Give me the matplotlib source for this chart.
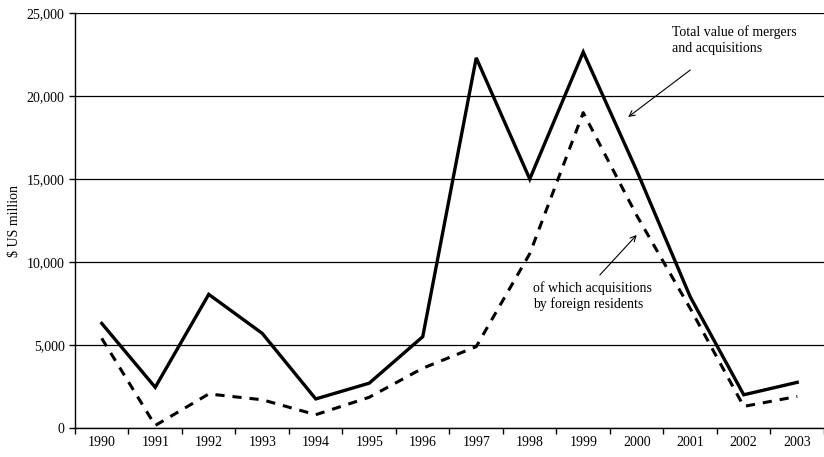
import matplotlib.pyplot as plt
import numpy as np

# Dados ($ US milhões)
anos = ['1990', '1991', '1992', '1993', '1994', '1995', '1996',
        '1997', '1998', '1999', '2000', '2001', '2002', '2003']
total = [6300, 2450, 8050, 5700, 1750, 2700, 5500,
         22300, 15000, 22650, 15500, 7900, 2000, 2750]
estrangeiros = [5400, 150, 2050, 1700, 800, 1850, 3600,
                4900, 10500, 19000, 12800, 7200, 1300, 1900]

plt.rcParams['font.family'] = ['Liberation Serif', 'DejaVu Serif']

fig = plt.figure(figsize=(8.24, 4.57), dpi=100)
ax = fig.add_axes([0.091, 0.0635, 0.909, 0.908])

x = np.arange(len(anos))
ax.plot(x, total, color='black', linewidth=2.4, solid_joinstyle='miter')
ax.plot(x, estrangeiros, color='black', linewidth=2.2, dashes=(3, 2.6))

# Eixos
ax.set_xlim(-0.5, len(anos) - 0.5)
ax.set_ylim(0, 25000)
ax.set_yticks(np.arange(0, 25001, 5000))
ax.set_yticklabels([f'{v:,}' for v in range(0, 25001, 5000)], fontsize=10)
ax.set_xticks(np.arange(len(anos) + 1) - 0.5)
ax.set_xticklabels([])
ax.set_xticks(x, minor=True)
ax.set_xticklabels(anos, minor=True, fontsize=10)
ax.tick_params(axis='x', which='major', direction='out', length=4, width=1)
ax.tick_params(axis='x', which='minor', length=0, pad=6)
ax.tick_params(axis='y', direction='out', length=4, width=1)

ax.grid(True, axis='y', color='black', linewidth=0.9)
ax.set_axisbelow(True)
for lado in ['top', 'right']:
    ax.spines[lado].set_visible(False)
ax.spines['left'].set_linewidth(1)
ax.spines['bottom'].set_linewidth(1)

ax.set_ylabel('$ US million', fontsize=10, labelpad=4)

# Anotações (texto + seta)
ax.text(10.66, 23370, 'Total value of mergers\nand acquisitions',
        fontsize=10, ha='left', va='center', linespacing=1.25)
ax.annotate('', xy=(9.84, 18735), xytext=(11.0, 21566),
            arrowprops=dict(arrowstyle='->', color='black', lw=0.8,
                            shrinkA=0, shrinkB=0))
ax.text(8.06, 7950, 'of which acquisitions\nby foreign residents',
        fontsize=10, ha='left', va='center', linespacing=1.25)
ax.annotate('', xy=(10.0, 11630), xytext=(9.31, 9217),
            arrowprops=dict(arrowstyle='->', color='black', lw=0.8,
                            shrinkA=0, shrinkB=0))

plt.savefig('out.png', dpi=100)
